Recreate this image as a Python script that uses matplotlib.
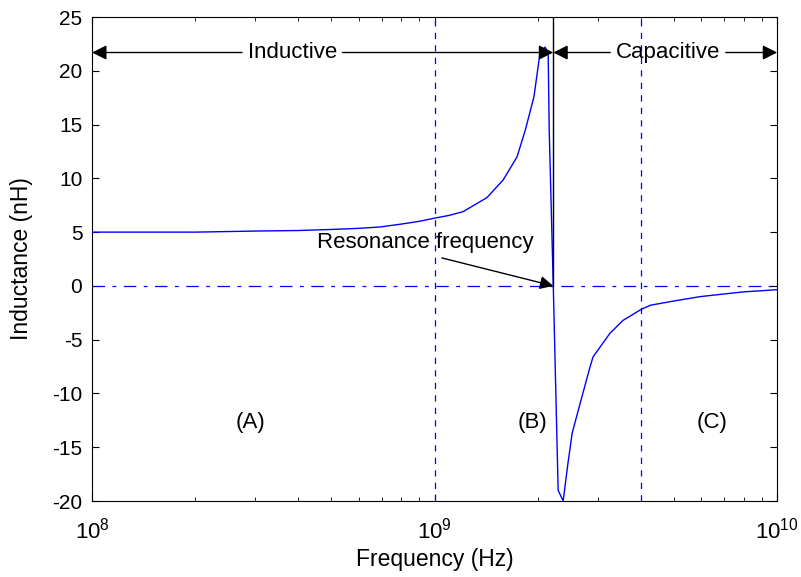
import matplotlib
matplotlib.use("Agg")
import matplotlib.pyplot as plt

plt.rcParams['font.family'] = ['Liberation Sans', 'DejaVu Sans']
plt.rcParams['mathtext.fontset'] = 'custom'
plt.rcParams['mathtext.rm'] = 'Liberation Sans'
plt.rcParams['mathtext.default'] = 'regular'
plt.rcParams['axes.unicode_minus'] = False

# inductance curve
freq = [1e8, 2e8, 3e8, 4e8, 5e8, 6e8, 6.93e8, 8e8, 9e8, 1e9, 1.1e9, 1.21e9,
        1.42e9, 1.585e9, 1.74e9, 1.84e9, 1.95e9, 2.03e9, 2.1e9, 2.145e9,
        2.16e9, 2.22e9, 2.294e9, 2.372e9, 2.45e9, 2.52e9, 2.66e9, 2.844e9,
        2.9e9, 3.25e9, 3.55e9, 4e9, 4.26e9, 5e9, 5.95e9, 7e9, 8e9, 9e9, 1e10]
induct = [5.0, 5.0, 5.1, 5.15, 5.25, 5.35, 5.48, 5.75, 6.0, 6.3, 6.55, 6.9,
          8.2, 9.85, 12.0, 14.5, 17.6, 21.65, 22.2, 21.7,
          14.5, 0.0, -19.0, -20.0, -16.5, -13.7, -10.9, -7.5,
          -6.6, -4.4, -3.2, -2.2, -1.8, -1.4, -1.0, -0.75, -0.55, -0.45, -0.35]

f_res = 2.22e9
region_lines = [1e9, 4e9]
arrow_y = 21.7
region_labels = ['(A)', '(B)', '(C)']
region_x = [2.91e8, 1.93e9, 6.46e9]
label_y = -12.7

fig = plt.figure(figsize=(8.01, 5.77), dpi=100)
ax = fig.add_axes([0.1149, 0.1317, 0.8554, 0.8388])

ax.plot(freq, induct, color='#0000ff', lw=1.0, zorder=3)
for xv in region_lines:
    ax.axvline(xv, color='#0000ff', ls=(0, (5, 5)), lw=0.9, zorder=4)
ax.axhline(0, color='#0000ff', ls=(0, (10, 6, 3, 6)), lw=0.9, zorder=2)
ax.plot([f_res, f_res], [0, 25], color='k', lw=1.0, zorder=3)

ax.set_xscale('log')
ax.set_xlim(1e8, 1e10)
ax.set_ylim(-20, 25)
ax.set_yticks(range(-20, 26, 5))

fs = 16
ax.set_xlabel('Frequency (Hz)', fontsize=16.5, labelpad=3)
ax.set_ylabel('Inductance (nH)', fontsize=16.5, labelpad=14)
ax.tick_params(which='both', direction='in', top=True, right=True, labelsize=15)
ax.tick_params(which='major', length=5)
ax.tick_params(which='minor', length=3)
ax.tick_params(axis='x', which='major', pad=12, labelsize=16)
ax.tick_params(axis='y', which='major', pad=7)

ap = dict(arrowstyle='-|>', color='k', lw=1.0, mutation_scale=22, shrinkA=2, shrinkB=0)

# Inductive arrows
ax.annotate('Inductive', xy=(1e8, arrow_y), xytext=(3.84e8, arrow_y),
            ha='center', va='center', fontsize=fs, arrowprops=ap)
ax.annotate('Inductive', xy=(f_res, arrow_y), xytext=(3.84e8, arrow_y),
            ha='center', va='center', fontsize=fs, color='none', arrowprops=ap)
# Capacitive arrows
ax.annotate('Capacitive', xy=(1e10, arrow_y), xytext=(4.8e9, arrow_y),
            ha='center', va='center', fontsize=fs, arrowprops=ap)
ax.annotate('Capacitive', xy=(f_res, arrow_y), xytext=(4.8e9, arrow_y),
            ha='center', va='center', fontsize=fs, color='none', arrowprops=ap)

ax.text(0.938e9, 3.5, 'Resonance frequency', ha='center', va='baseline', fontsize=fs)
ax.annotate('', xy=(f_res, 0), xytext=(1.05e9, 2.6),
            arrowprops=dict(arrowstyle='-|>', color='k', lw=1.0,
                            mutation_scale=20, shrinkA=0, shrinkB=0))

for lab, xv in zip(region_labels, region_x):
    ax.text(xv, label_y, lab, ha='center', va='center', fontsize=fs)

fig.savefig('out.png', dpi=100)
